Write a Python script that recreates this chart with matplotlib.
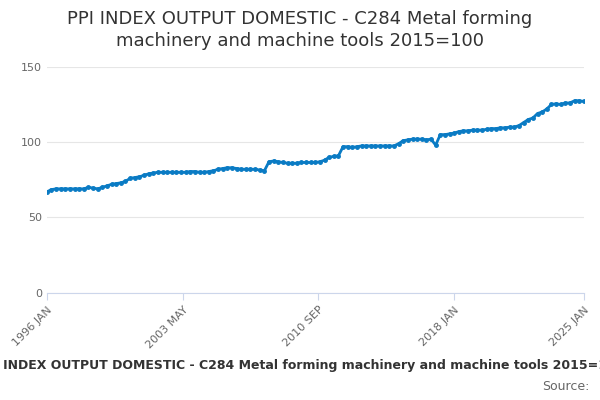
import matplotlib.pyplot as plt
import pandas as pd

start = "1996-01"
values = [
    67, 68.5, 69, 69,
    69, 69, 69, 69,
    69, 70, 69.5, 69,
    70, 71, 72, 72.5,
    73, 74, 76, 76.5,
    77, 78, 79, 79.5,
    80, 80, 80, 80,
    80, 80, 80, 80.5,
    80.5, 80, 80, 80.5,
    81, 82, 82.5, 83,
    83, 82.5, 82, 82,
    82, 82, 81.5, 81,
    87, 87.5, 87, 86.5,
    86, 86, 86, 86.5,
    86.5, 86.5, 86.5, 87,
    88, 90, 90.5, 91,
    97, 97, 96.5, 97,
    97.5, 97.5, 97.5, 97.5,
    97.5, 97.5, 97.5, 97.5,
    99, 101, 101.5, 102,
    102, 102, 101.5, 102,
    98, 105, 105, 105.5,
    106, 107, 107.5, 107.5,
    108, 108, 108, 108.5,
    109, 109, 109.5, 109.5,
    110, 110, 111, 113,
    115, 116, 119, 120,
    122, 125, 125.5, 125,
    126, 126, 127.5, 127.5,
    127,
]
tick_labels = ["1996 JAN", "2003 MAY", "2010 SEP", "2018 JAN", "2025 JAN"]
tick_dates = ["1996-01", "2003-05", "2010-09", "2018-01", "2025-01"]

dates = pd.period_range(start, periods=len(values), freq="3M")
t0 = pd.Period(start, "M")
x = [(pd.Period(d.strftime("%Y-%m"), "M") - t0).n for d in dates]
tx = [(pd.Period(d, "M") - t0).n for d in tick_dates]

color = "#0a7bc4"
fig = plt.figure(figsize=(6, 4), dpi=100)
ax = fig.add_axes([0.078, 0.268, 0.895, 0.565])
ax.plot(x, values, color=color, lw=2, marker="o", ms=2.5)
ax.set_ylim(0, 150)
ax.set_yticks([0, 50, 100, 150])
ax.set_xlim(0, tx[-1])
ax.set_xticks(tx)
ax.set_xticklabels(tick_labels, rotation=45, ha="right", rotation_mode="anchor")
ax.grid(axis="y", color="#e6e6e6", lw=0.8)
ax.set_axisbelow(True)
for s in ["top", "right", "left"]:
    ax.spines[s].set_visible(False)
ax.spines["bottom"].set_color("#ccd6eb")
ax.tick_params(axis="y", length=0, colors="#666666", labelsize=8)
ax.tick_params(axis="x", colors="#666666", labelsize=8, length=5, color="#ccd6eb")

fig.text(0.5, 0.975, "PPI INDEX OUTPUT DOMESTIC - C284 Metal forming\nmachinery and machine tools 2015=100",
         ha="center", va="top", fontsize=13, color="#333333", linespacing=1.3)
fig.text(0.5, 0.085, "PPI INDEX OUTPUT DOMESTIC - C284 Metal forming machinery and machine tools 2015=100",
         ha="center", va="center", fontsize=9, fontweight="bold", color="#333333")
fig.text(0.983, 0.035, "Source:", ha="right", va="center", fontsize=9, color="#666666")

fig.savefig("out.png")
